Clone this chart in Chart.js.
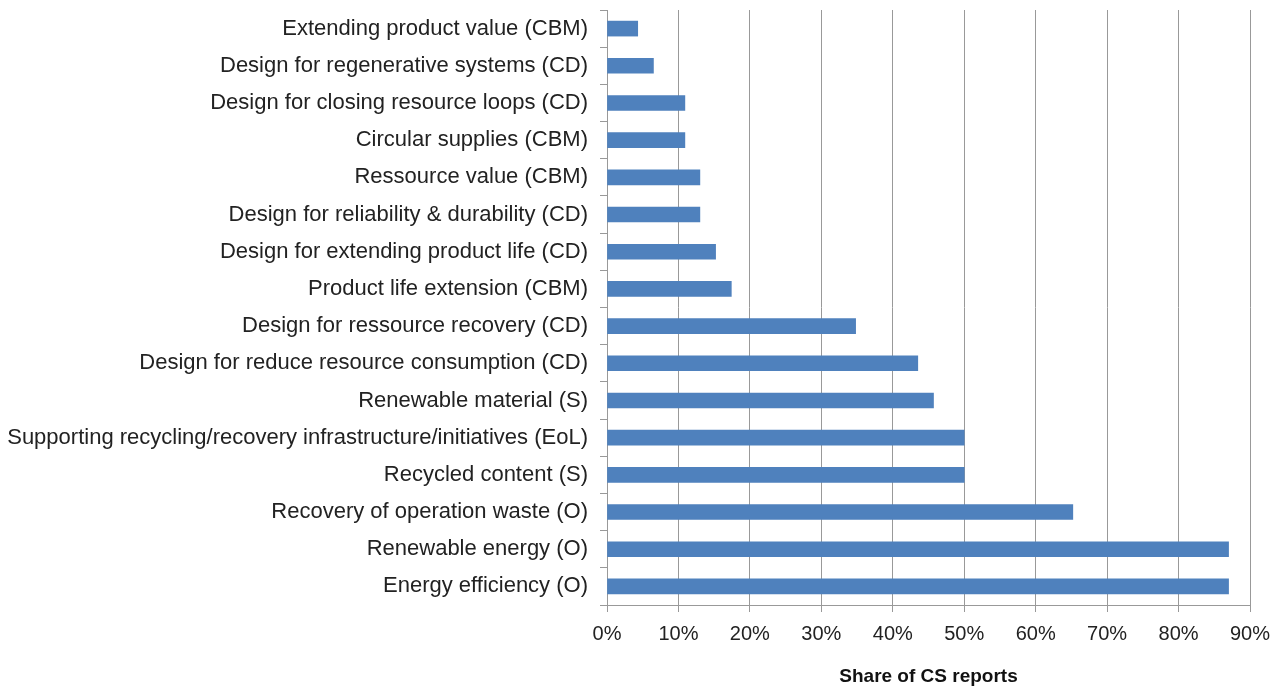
<!DOCTYPE html>
<html>
<head>
<meta charset="utf-8">
<script src="https://cdn.jsdelivr.net/npm/chart.js@4"></script>
<style>
  html, body { margin: 0; padding: 0; background: #fff; }
  #wrap { width: 1282px; height: 690px; }
</style>
</head>
<body>
<div id="wrap"><canvas id="csChart"></canvas></div>
<script>
// categories, top to bottom
var categories = [
    "Extending product value (CBM)",
    "Design for regenerative systems (CD)",
    "Design for closing resource loops (CD)",
    "Circular supplies (CBM)",
    "Ressource value (CBM)",
    "Design for reliability & durability (CD)",
    "Design for extending product life (CD)",
    "Product life extension (CBM)",
    "Design for ressource recovery (CD)",
    "Design for reduce resource consumption (CD)",
    "Renewable material (S)",
    "Supporting recycling/recovery infrastructure/initiatives (EoL)",
    "Recycled content (S)",
    "Recovery of operation waste (O)",
    "Renewable energy (O)",
    "Energy efficiency (O)"
];
// share of CS reports (%)
var shares = [4.3, 6.5, 10.9, 10.9, 13.0, 13.0, 15.2, 17.4, 34.8, 43.5, 45.7, 50.0, 50.0, 65.2, 87.0, 87.0];
var axisTitle = "Share of CS reports";

var ctx = document.getElementById("csChart").getContext("2d");
new Chart(ctx, {
    type: "bar",
    data: {
        labels: categories,
        datasets: [{
            data: shares,
            backgroundColor: "#4F81BD",
            borderWidth: 0,
            barThickness: 15
        }]
    },
    options: {
        indexAxis: "y",
        responsive: true,
        maintainAspectRatio: false,
        animation: false,
        layout: { padding: { left: 0, right: 32, top: 10, bottom: 2 } },
        plugins: { legend: { display: false }, tooltip: { enabled: false } },
        scales: {
            x: {
                min: 0,
                max: 90,
                ticks: {
                    stepSize: 10,
                    callback: function (v) { return v + "%"; },
                    color: "#222",
                    font: { family: "Liberation Sans, Arial", size: 20 },
                    padding: 10
                },
                grid: { color: "#999999", tickLength: 7, tickColor: "#999999" },
                border: { color: "#999999" },
                title: {
                    display: true,
                    text: axisTitle,
                    color: "#111",
                    font: { family: "Liberation Sans, Arial", size: 19, weight: "bold" },
                    padding: { top: 18, bottom: 0 }
                },
                afterFit: function (s) { s.height = 83; }
            },
            y: {
                afterFit: function (s) {
                    s.width = 607;
                    s.paddingTop = 0;
                    s.paddingBottom = 0;
                },
                ticks: {
                    color: "#222",
                    font: { family: "Liberation Sans, Arial", size: 22 },
                    padding: 12,
                    autoSkip: false
                },
                grid: { drawOnChartArea: false, offset: true, tickLength: 7, color: "#999999" },
                border: { color: "#999999" }
            }
        }
    }
});
</script>
</body>
</html>
